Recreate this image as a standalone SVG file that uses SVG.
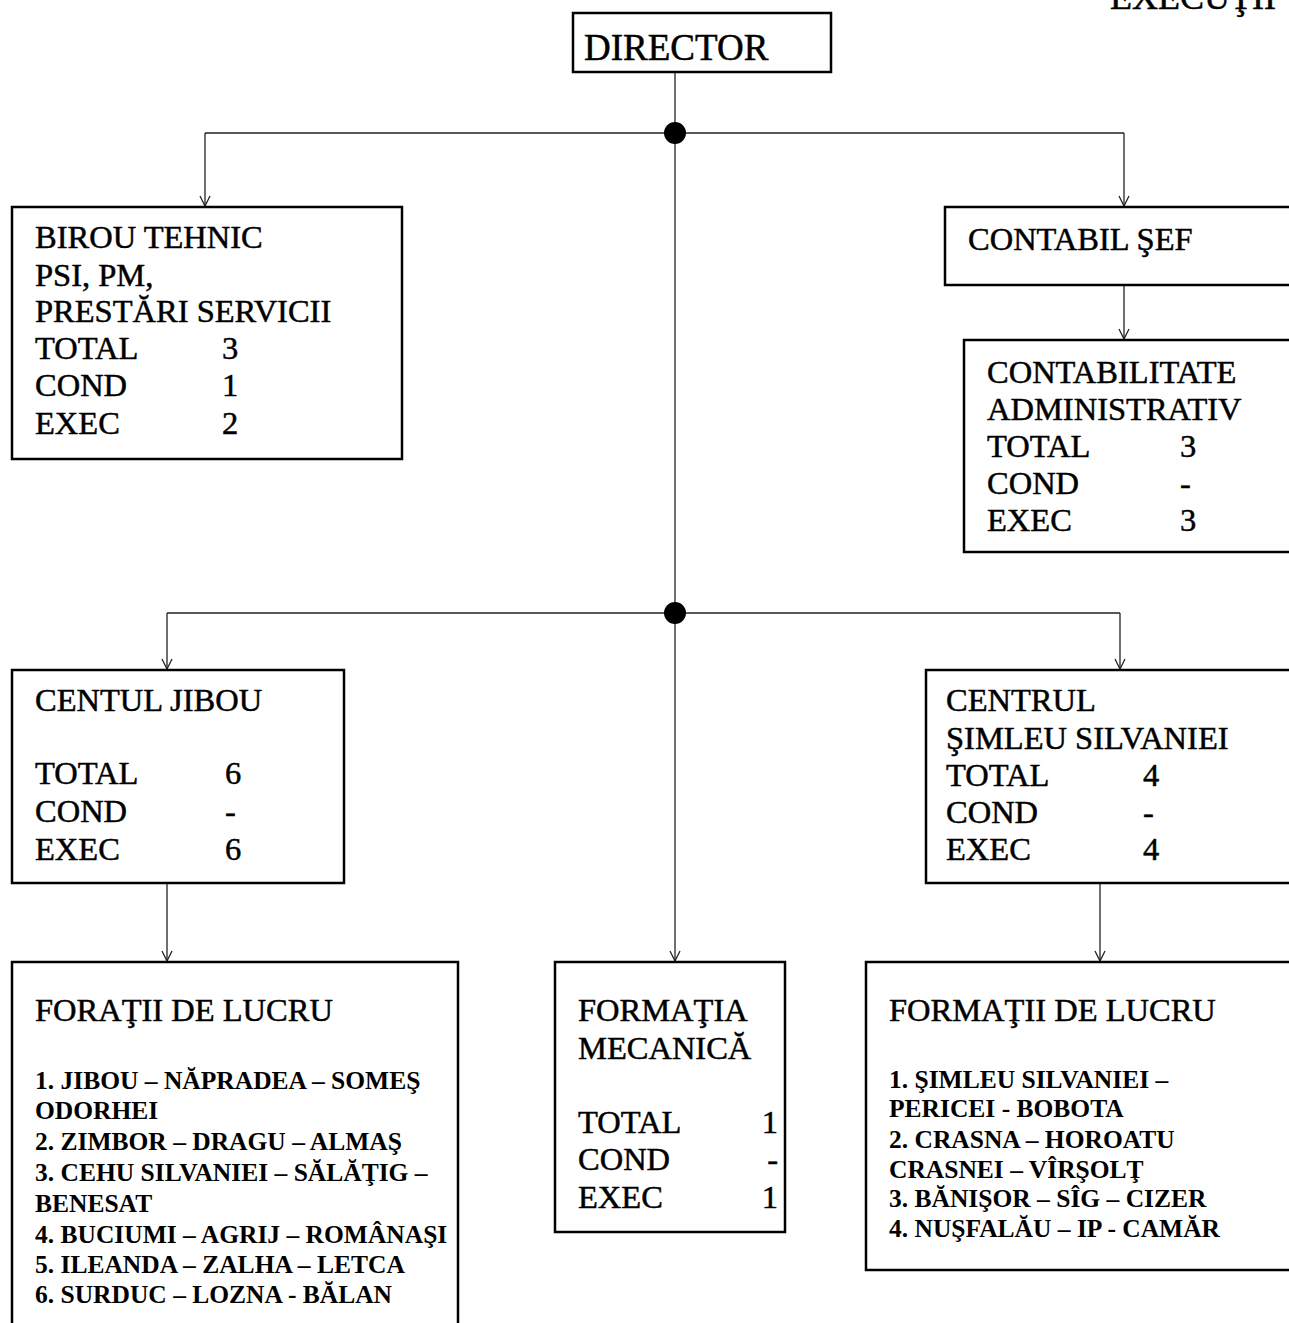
<svg xmlns="http://www.w3.org/2000/svg" width="1289" height="1323" viewBox="0 0 1289 1323">
<style>
.box{fill:#fff;stroke:#000;stroke-width:2.5}
.t{font-family:"Liberation Serif","Times New Roman",serif;font-size:32.5px;fill:#000;stroke:#000;stroke-width:0.5}
.s{font-family:"Liberation Serif","Times New Roman",serif;font-size:25.5px;font-weight:bold;fill:#000}
.c{stroke:#222;stroke-width:1.3;fill:none}
.e{text-anchor:end}
</style>
<defs>
<marker id="arr" viewBox="0 0 12 12" refX="11" refY="6" markerWidth="12" markerHeight="12" markerUnits="userSpaceOnUse" orient="auto">
<path d="M1,1 L11,6 L1,11" fill="none" stroke="#222" stroke-width="1.3"/>
</marker>
</defs>
<rect width="1289" height="1323" fill="#fff"/>
<text class="t" x="1110" y="9" style="font-size:36px">EXECUŢII</text>

<g id="connectors">
<line class="c" x1="675" y1="72" x2="675" y2="961" marker-end="url(#arr)"/>
<line class="c" x1="205" y1="133" x2="1124" y2="133"/>
<line class="c" x1="205" y1="133" x2="205" y2="206" marker-end="url(#arr)"/>
<line class="c" x1="1124" y1="133" x2="1124" y2="206" marker-end="url(#arr)"/>
<line class="c" x1="1124" y1="285" x2="1124" y2="339" marker-end="url(#arr)"/>
<line class="c" x1="167" y1="613" x2="1120" y2="613"/>
<line class="c" x1="167" y1="613" x2="167" y2="669" marker-end="url(#arr)"/>
<line class="c" x1="1120" y1="613" x2="1120" y2="669" marker-end="url(#arr)"/>
<line class="c" x1="167" y1="883" x2="167" y2="961" marker-end="url(#arr)"/>
<line class="c" x1="1100" y1="883" x2="1100" y2="961" marker-end="url(#arr)"/>
<circle cx="675" cy="133" r="11" fill="#000"/>
<circle cx="675" cy="613" r="11" fill="#000"/>
</g>

<g id="director">
<rect class="box" x="573" y="13" width="258" height="59"/>
<text class="t" x="584" y="60" style="font-size:37px">DIRECTOR</text>
</g>

<g id="birou-tehnic">
<rect class="box" x="12" y="207" width="390" height="252"/>
<text class="t" x="35" y="248">BIROU TEHNIC</text>
<text class="t" x="35" y="286">PSI, PM,</text>
<text class="t" x="35" y="322">PRESTĂRI SERVICII</text>
<text class="t" x="35" y="359">TOTAL</text><text class="t" x="222" y="359">3</text>
<text class="t" x="35" y="396">COND</text><text class="t" x="222" y="396">1</text>
<text class="t" x="35" y="434">EXEC</text><text class="t" x="222" y="434">2</text>
</g>

<g id="contabil-sef">
<rect class="box" x="945" y="207" width="360" height="78"/>
<text class="t" x="968" y="250">CONTABIL ŞEF</text>
</g>

<g id="contabilitate">
<rect class="box" x="964" y="340" width="340" height="212"/>
<text class="t" x="987" y="383">CONTABILITATE</text>
<text class="t" x="987" y="420">ADMINISTRATIV</text>
<text class="t" x="987" y="457">TOTAL</text><text class="t" x="1180" y="457">3</text>
<text class="t" x="987" y="494">COND</text><text class="t" x="1180" y="494">-</text>
<text class="t" x="987" y="531">EXEC</text><text class="t" x="1180" y="531">3</text>
</g>

<g id="centrul-jibou">
<rect class="box" x="12" y="670" width="332" height="213"/>
<text class="t" x="35" y="711">CENTUL JIBOU</text>
<text class="t" x="35" y="784">TOTAL</text><text class="t" x="225" y="784">6</text>
<text class="t" x="35" y="822">COND</text><text class="t" x="225" y="822">-</text>
<text class="t" x="35" y="860">EXEC</text><text class="t" x="225" y="860">6</text>
</g>

<g id="centrul-simleu">
<rect class="box" x="926" y="670" width="380" height="213"/>
<text class="t" x="946" y="711">CENTRUL</text>
<text class="t" x="946" y="749">ŞIMLEU SILVANIEI</text>
<text class="t" x="946" y="786">TOTAL</text><text class="t" x="1143" y="786">4</text>
<text class="t" x="946" y="823">COND</text><text class="t" x="1143" y="823">-</text>
<text class="t" x="946" y="860">EXEC</text><text class="t" x="1143" y="860">4</text>
</g>

<g id="formatii-jibou">
<rect class="box" x="12" y="962" width="446" height="380"/>
<text class="t" x="35" y="1021">FORAŢII DE LUCRU</text>
<text class="s" x="35" y="1089">1. JIBOU – NĂPRADEA – SOMEŞ</text>
<text class="s" x="35" y="1119">ODORHEI</text>
<text class="s" x="35" y="1150">2. ZIMBOR – DRAGU – ALMAŞ</text>
<text class="s" x="35" y="1181">3. CEHU SILVANIEI – SĂLĂŢIG –</text>
<text class="s" x="35" y="1212">BENESAT</text>
<text class="s" x="35" y="1243">4. BUCIUMI – AGRIJ – ROMÂNAŞI</text>
<text class="s" x="35" y="1273">5. ILEANDA – ZALHA – LETCA</text>
<text class="s" x="35" y="1303">6. SURDUC – LOZNA - BĂLAN</text>
</g>

<g id="formatia-mecanica">
<rect class="box" x="555" y="962" width="230" height="270"/>
<text class="t" x="578" y="1021">FORMAŢIA</text>
<text class="t" x="578" y="1059">MECANICĂ</text>
<text class="t" x="578" y="1133">TOTAL</text><text class="t e" x="778" y="1133">1</text>
<text class="t" x="578" y="1170">COND</text><text class="t e" x="778" y="1170">-</text>
<text class="t" x="578" y="1208">EXEC</text><text class="t e" x="778" y="1208">1</text>
</g>

<g id="formatii-simleu">
<rect class="box" x="866" y="962" width="440" height="308"/>
<text class="t" x="889" y="1021">FORMAŢII DE LUCRU</text>
<text class="s" x="889" y="1088">1. ŞIMLEU SILVANIEI –</text>
<text class="s" x="889" y="1117">PERICEI - BOBOTA</text>
<text class="s" x="889" y="1148">2. CRASNA – HOROATU</text>
<text class="s" x="889" y="1178">CRASNEI – VÎRŞOLŢ</text>
<text class="s" x="889" y="1207">3. BĂNIŞOR – SÎG – CIZER</text>
<text class="s" x="889" y="1237">4. NUŞFALĂU – IP - CAMĂR</text>
</g>
</svg>
